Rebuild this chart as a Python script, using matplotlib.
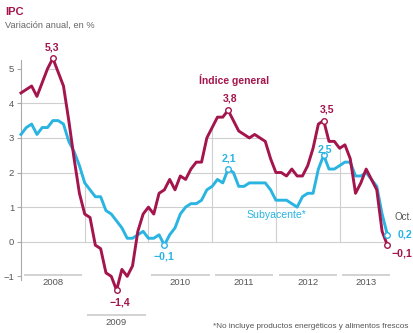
import numpy as np
import matplotlib
matplotlib.use("Agg")
import matplotlib.pyplot as plt
from matplotlib.patches import Polygon

plt.rcParams['font.family'] = ['Liberation Sans', 'DejaVu Sans']

# Monthly year-on-year rates, Jan 2008 .. Oct 2013
years = [2008, 2009, 2010, 2011, 2012, 2013]
general = [
    4.3, 4.4, 4.5, 4.2, 4.6, 5.0, 5.3, 4.9, 4.5, 3.5, 2.4, 1.4,
    0.8, 0.7, -0.1, -0.2, -0.9, -1.0, -1.4, -0.8, -1.0, -0.7, 0.3, 0.8,
    1.0, 0.8, 1.4, 1.5, 1.8, 1.5, 1.9, 1.8, 2.1, 2.3, 2.3, 3.0,
    3.3, 3.6, 3.6, 3.8, 3.5, 3.2, 3.1, 3.0, 3.1, 3.0, 2.9, 2.4,
    2.0, 2.0, 1.9, 2.1, 1.9, 1.9, 2.2, 2.7, 3.4, 3.5, 2.9, 2.9,
    2.7, 2.8, 2.4, 1.4, 1.7, 2.1, 1.8, 1.5, 0.3, -0.1,
]
core = [
    3.1, 3.3, 3.4, 3.1, 3.3, 3.3, 3.5, 3.5, 3.4, 2.9, 2.6, 2.2,
    1.7, 1.5, 1.3, 1.3, 0.9, 0.8, 0.6, 0.4, 0.1, 0.1, 0.2, 0.3,
    0.1, 0.1, 0.2, -0.1, 0.2, 0.4, 0.8, 1.0, 1.1, 1.1, 1.2, 1.5,
    1.6, 1.8, 1.7, 2.1, 2.0, 1.6, 1.6, 1.7, 1.7, 1.7, 1.7, 1.5,
    1.2, 1.2, 1.2, 1.1, 1.0, 1.3, 1.4, 1.4, 2.1, 2.5, 2.1, 2.1,
    2.2, 2.3, 2.3, 1.9, 1.9, 2.0, 1.8, 1.6, 0.8, 0.2,
]
# highlighted points: (month index, offset of the label in pixels)
general_marks = [(6, (-1, 11)), (39, (2, 12)), (57, (3, 11)), (18, (3, -12))]
core_marks = [(39, (1, 11)), (57, (1, 6)), (27, (0, -11))]

RED = '#a3154c'
BLUE = '#29b4e2'
GRID = '#cfcfcf'
TEXT = '#555555'

W, H = 414, 333


def fmt(v):
    return f"{v:.1f}".replace('.', ',').replace('-', '\u2212')


def ftext(px, py, s, **kw):
    # place text using pixel coordinates measured from the top-left corner
    return fig.text(px / W, 1 - py / H, s, **kw)


fig = plt.figure(figsize=(W / 100, H / 100), dpi=100)
ax = fig.add_axes([21 / W, 1.3 / H, 366.4 / W, 280.3 / H])
x = np.arange(len(general))
ax.set_xlim(0, len(general) - 1)
ax.set_ylim(-2.6, 5.5)

# grid only shows underneath the curves
env = np.maximum(general, core)
verts = list(zip(x, env)) + [(x[-1], -1.5), (0, -1.5)]
clip = Polygon(verts, closed=True, transform=ax.transData)
for level in range(1, 6):
    ln, = ax.plot([0, x[-1]], [level, level], color=GRID, lw=0.8, zorder=1)
    ln.set_clip_path(clip)
for k in range(1, len(years)):
    ln, = ax.plot([12 * k, 12 * k], [0, 6], color=GRID, lw=0.8, zorder=1)
    ln.set_clip_path(clip)
ax.plot([0, x[-1]], [0, 0], color=GRID, lw=0.8, zorder=1)

# year segments along the bottom
for i, yr in enumerate(years):
    start = 12 * i + 0.5
    end = min(12 * i + 11.5, len(general) - 0.5)
    yb, yl = (-2.12, -2.33) if yr == 2009 else (-0.95, -1.17)
    ax.plot([start, end], [yb, yb], color=GRID, lw=1.3,
            solid_capstyle='butt', clip_on=False, zorder=1)
    ax.text((start + end) / 2, yl, str(yr), ha='center', va='center',
            fontsize=6.8, color=TEXT)

ax.plot(x, core, color=BLUE, lw=2.1, zorder=3, clip_on=False)
ax.plot(x, general, color=RED, lw=2.1, zorder=4, clip_on=False)

for series, marks, color in [(general, general_marks, RED), (core, core_marks, BLUE)]:
    for idx, (dx, dy) in marks:
        ax.plot(idx, series[idx], 'o', ms=4, mfc='white', mec=color, mew=1, zorder=6)
        ax.annotate(fmt(series[idx]), (idx, series[idx]), xytext=(dx, dy),
                    textcoords='offset pixels', ha='center', va='center',
                    fontsize=7.6, fontweight='bold', color=color, zorder=7)

# last month
last = len(general) - 1
ax.plot(last, core[last], 'o', ms=4, mfc='white', mec=BLUE, mew=1, zorder=6, clip_on=False)
ax.plot(last, general[last], 'o', ms=4, mfc='white', mec=RED, mew=1, zorder=6, clip_on=False)
ax.annotate(fmt(core[last]), (last, core[last]), xytext=(10.5, 0),
            textcoords='offset pixels', ha='left', va='center',
            fontsize=7.6, fontweight='bold', color=BLUE, annotation_clip=False)
ax.annotate(fmt(general[last]), (last, general[last]), xytext=(4.5, -8),
            textcoords='offset pixels', ha='left', va='center',
            fontsize=7.6, fontweight='bold', color=RED, annotation_clip=False)

for side in ['top', 'right', 'bottom']:
    ax.spines[side].set_visible(False)
ax.spines['left'].set_bounds(-1.1, 5.25)
ax.spines['left'].set_color('#aaaaaa')
ax.spines['left'].set_linewidth(0.8)
ax.set_xticks([])
ax.set_yticks(range(-1, 6))
ax.set_yticklabels([fmt(v).replace(',0', '') for v in range(-1, 6)])
ax.tick_params(axis='y', length=3, width=0.8, color='#aaaaaa', pad=2,
               labelsize=6.8, labelcolor=TEXT)

ftext(5, 12, "IPC", fontsize=8, fontweight='bold', color=RED, va='center')
ftext(5, 25.5, "Variación anual, en %", fontsize=6.7, color='#666666', va='center')
ftext(199, 80, "Índice general", fontsize=7.5, fontweight='bold', color=RED, va='center')
ftext(246, 215, "Subyacente*", fontsize=7.6, color=BLUE, va='center')
ftext(395, 217, "Oct.", fontsize=7, color=TEXT, va='center')
ftext(408, 326.5, "*No incluye productos energéticos y alimentos frescos",
      fontsize=5.9, color=TEXT, ha='right', va='center')

fig.savefig("out.png", dpi=100)
